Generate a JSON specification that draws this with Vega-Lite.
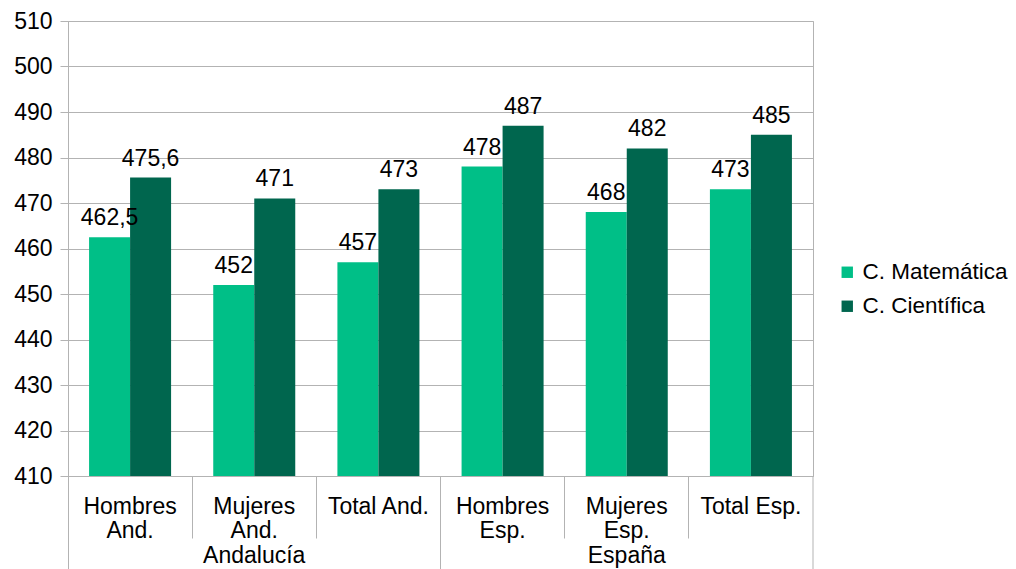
{
  "$schema": "https://vega.github.io/schema/vega-lite/v6.json",
  "autosize": "none",
  "width": 745,
  "height": 455,
  "padding": {"left": 68, "top": 21, "right": 203, "bottom": 93},
  "background": "white",
  "config": {
    "font": "Liberation Sans",
    "view": {"stroke": "#b3b3b3", "strokeWidth": 1},
    "locale": {"number": {"decimal": ",", "thousands": ".", "grouping": [3], "currency": ["", " €"]}}
  },
  "data": {
    "values": [
      {"categoria": "Hombres|And.", "serie": "C. Matemática", "valor": 462.5},
      {"categoria": "Hombres|And.", "serie": "C. Científica", "valor": 475.6},
      {"categoria": "Mujeres|And.|Andalucía", "serie": "C. Matemática", "valor": 452},
      {"categoria": "Mujeres|And.|Andalucía", "serie": "C. Científica", "valor": 471},
      {"categoria": "Total And.", "serie": "C. Matemática", "valor": 457},
      {"categoria": "Total And.", "serie": "C. Científica", "valor": 473},
      {"categoria": "Hombres|Esp.", "serie": "C. Matemática", "valor": 478},
      {"categoria": "Hombres|Esp.", "serie": "C. Científica", "valor": 487},
      {"categoria": "Mujeres|Esp.|España", "serie": "C. Matemática", "valor": 468},
      {"categoria": "Mujeres|Esp.|España", "serie": "C. Científica", "valor": 482},
      {"categoria": "Total Esp.", "serie": "C. Matemática", "valor": 473},
      {"categoria": "Total Esp.", "serie": "C. Científica", "valor": 485}
    ]
  },
  "encoding": {
    "x": {
      "field": "categoria",
      "type": "nominal",
      "sort": null,
      "scale": {"paddingInner": 0, "paddingOuter": 0},
      "axis": {
        "title": null,
        "labelAngle": 0,
        "labelExpr": "split(datum.value, '|')",
        "labelFontSize": 23,
        "labelColor": "#000000",
        "labelLineHeight": 24.5,
        "labelBaseline": "top",
        "bandPosition": 0,
        "domainColor": "#b3b3b3",
        "tickColor": "#b3b3b3",
        "tickSize": {"condition": {"test": "indexof(datum.value, 'Hombres') == 0", "value": 95}, "value": 62},
        "labelPadding": {"condition": {"test": "indexof(datum.value, 'Hombres') == 0", "value": -76}, "value": -43},
        "labelFlush": false,
        "labelOverlap": false,
        "labelBound": false,
        "grid": false
      }
    },
    "y": {
      "field": "valor",
      "type": "quantitative",
      "scale": {"domain": [410, 510], "zero": false, "nice": false},
      "axis": {
        "title": null,
        "values": [410, 420, 430, 440, 450, 460, 470, 480, 490, 500, 510],
        "labelFontSize": 23,
        "labelColor": "#000000",
        "labelPadding": 8,
        "tickSize": 8,
        "tickColor": "#b3b3b3",
        "domainColor": "#b3b3b3",
        "gridColor": "#b3b3b3",
        "labelBound": false,
        "labelFlush": false
      }
    }
  },
  "layer": [
    {
      "mark": {"type": "bar"},
      "encoding": {
        "y2": {"datum": 410},
        "xOffset": {
          "field": "serie",
          "type": "nominal",
          "sort": ["C. Matemática", "C. Científica"],
          "scale": {"paddingInner": 0, "paddingOuter": 0.514}
        },
        "color": {
          "field": "serie",
          "type": "nominal",
          "sort": ["C. Matemática", "C. Científica"],
          "scale": {"domain": ["C. Matemática", "C. Científica"], "range": ["#00bf87", "#00664e"]},
          "legend": {
            "title": null,
            "orient": "none",
            "legendX": 768,
            "legendY": 240,
            "padding": 0,
            "symbolType": "square",
            "symbolSize": 130,
            "symbolStrokeWidth": 0,
            "labelFontSize": 22.5,
            "labelColor": "#000000",
            "labelOffset": 4,
            "rowPadding": 11
          }
        }
      }
    },
    {
      "mark": {"type": "text", "baseline": "alphabetic", "dy": -12, "fontSize": 23, "color": "#000000"},
      "encoding": {
        "xOffset": {
          "field": "serie",
          "type": "nominal",
          "sort": ["C. Matemática", "C. Científica"],
          "scale": {"paddingInner": 0, "paddingOuter": 0.514}
        },
        "text": {"field": "valor", "type": "quantitative", "format": "~g"}
      }
    },
    {
      "transform": [{"filter": "datum.categoria == 'Total Esp.' && datum.serie == 'C. Matemática'"}],
      "mark": {"type": "rule", "color": "#b3b3b3", "strokeWidth": 1},
      "encoding": {
        "x": {"field": "categoria", "type": "nominal", "sort": null, "bandPosition": 1},
        "y": {"datum": 410},
        "y2": {"datum": 389}
      }
    }
  ]
}
